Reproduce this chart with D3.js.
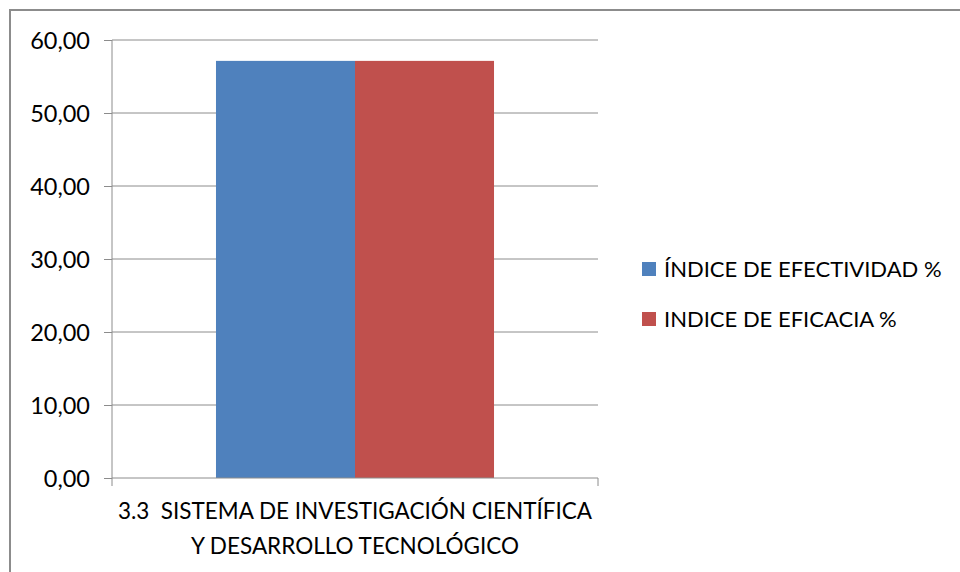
<!DOCTYPE html>
<html>
<head>
<meta charset="utf-8">
<script src="https://cdn.jsdelivr.net/npm/d3@7"></script>
<style>
  body { margin: 0; background: #fff; }
  text { font-family: Lato, "Liberation Sans", sans-serif; fill: #000; white-space: pre; }
</style>
</head>
<body>
<svg id="chart" width="960" height="572"></svg>
<script>
// データ
const categories = ["3.3  SISTEMA DE INVESTIGACIÓN CIENTÍFICA|Y DESARROLLO TECNOLÓGICO"];
const seriesNames = ["ÍNDICE DE EFECTIVIDAD %", "INDICE DE EFICACIA %"];
const seriesValues = [[57.14], [57.14]];
const seriesColors = ["#4f81bd", "#c0504d"];
const yTicks = [0, 10, 20, 30, 40, 50, 60];

const svg = d3.select("#chart");

// 外枠
svg.append("rect")
    .attr("x", 10).attr("y", 10)
    .attr("width", 960).attr("height", 580)
    .attr("fill", "none")
    .attr("stroke", "#8c8c8c")
    .attr("stroke-width", 2);

const plot = { left: 112, right: 598, top: 40, bottom: 478 };

const y = d3.scaleLinear().domain([0, 60]).range([plot.bottom, plot.top]);
const x0 = d3.scaleBand().domain(categories).range([plot.left, plot.right]).paddingInner(0).paddingOuter(0.374);
const x1 = d3.scaleBand().domain(d3.range(seriesNames.length)).range([0, x0.bandwidth()]);

// グリッド線
svg.append("g")
    .selectAll("line")
    .data(yTicks.filter(d => d > 0))
    .join("line")
    .attr("x1", plot.left).attr("x2", plot.right)
    .attr("y1", d => y(d)).attr("y2", d => y(d))
    .attr("stroke", "#8c8c8c").attr("stroke-width", 1);

// Y軸
const yAxis = d3.axisLeft(y).tickValues(yTicks).tickSize(8).tickPadding(14)
    .tickFormat(d => d3.format(".2f")(d).replace(".", ","));
const gy = svg.append("g").attr("transform", `translate(${plot.left},0)`).call(yAxis);
gy.select(".domain").attr("stroke", "#8c8c8c").attr("d", `M0,${plot.top}V${plot.bottom}`);
gy.selectAll(".tick line").attr("stroke", "#8c8c8c");
gy.selectAll(".tick text").style("font-size", "23.5px").style("font-family", "Lato, sans-serif").attr("dy", "0.35em");

// 棒
categories.forEach((c, ci) => {
    seriesValues.forEach((vals, si) => {
        svg.append("rect")
            .attr("x", x0(c) + x1(si))
            .attr("y", y(vals[ci]))
            .attr("width", x1.bandwidth())
            .attr("height", y(0) - y(vals[ci]))
            .attr("fill", seriesColors[si]);
    });
});

// X軸
svg.append("line")
    .attr("x1", plot.left).attr("x2", plot.right)
    .attr("y1", plot.bottom).attr("y2", plot.bottom)
    .attr("stroke", "#8c8c8c");
[plot.left, plot.right].forEach(px => {
    svg.append("line")
        .attr("x1", px).attr("x2", px)
        .attr("y1", plot.bottom).attr("y2", plot.bottom + 8)
        .attr("stroke", "#8c8c8c");
});

// カテゴリラベル
categories.forEach(c => {
    const lines = c.split("|");
    const t = svg.append("text")
        .attr("text-anchor", "middle")
        .style("font-size", "22.5px");
    lines.forEach((l, i) => {
        t.append("tspan")
            .attr("x", x0(c) + x0.bandwidth() / 2)
            .attr("y", 519 + i * 35)
            .text(l);
    });
});

// 凡例
const legend = svg.append("g");
seriesNames.forEach((name, i) => {
    const ly = 269 + i * 50;
    legend.append("rect")
        .attr("x", 642).attr("y", ly - 7)
        .attr("width", 14).attr("height", 14)
        .attr("fill", seriesColors[i]);
    legend.append("text")
        .attr("x", 664).attr("y", ly + 8)
        .style("font-size", "22px")
        .text(name);
});
</script>
</body>
</html>
